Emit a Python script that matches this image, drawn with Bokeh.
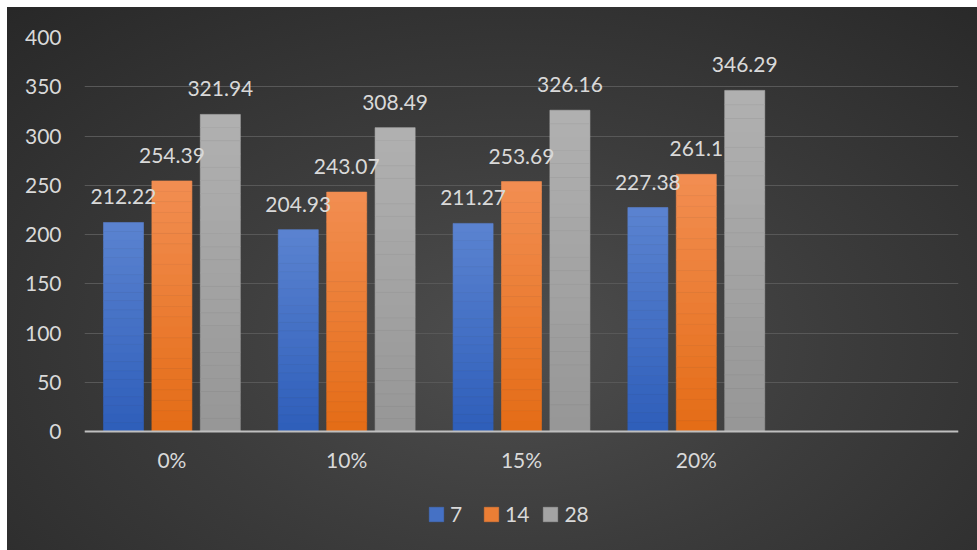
from bokeh.plotting import figure
from bokeh.models import ColumnDataSource, FactorRange, Range1d, LabelSet, Legend, LegendItem, FixedTicker, CategoricalAxis
from bokeh.core.properties import value
from bokeh.transform import dodge
from bokeh.embed import file_html
from bokeh.resources import INLINE

categories = ["0%", "10%", "15%", "20%", " "]
series_names = ["7", "14", "28"]
values_7 = [212.22, 204.93, 211.27, 227.38, None]
values_14 = [254.39, 243.07, 253.69, 261.1, None]
values_28 = [321.94, 308.49, 326.16, 346.29, None]
y_ticks = [0, 50, 100, 150, 200, 250, 300, 350, 400]

# gradient colours (bottom, top) per series
grad = [((0x2e, 0x5e, 0xba), (0x5b, 0x83, 0xd0)),
        ((0xe4, 0x6c, 0x16), (0xf2, 0x8e, 0x52)),
        ((0x96, 0x96, 0x96), (0xb1, 0xb1, 0xb1))]
FONT = "Lato"
TXT = "#d9d9d9"
NSLICE = 24

def fmt(v):
    return "" if v is None else ("%g" % v)

def num(vals):
    return [v if v is not None else float("nan") for v in vals]

series = [values_7, values_14, values_28]
src = ColumnDataSource(dict(
    cat=categories,
    v7=num(values_7), v14=num(values_14), v28=num(values_28),
    l7=[fmt(v) for v in values_7], l14=[fmt(v) for v in values_14], l28=[fmt(v) for v in values_28],
))

# frame extends to the bottom of the chart area so the legend can sit inside it
p = figure(x_range=FactorRange(*categories, range_padding=0, factor_padding=0),
           y_range=Range1d(-120.8, 400),
           frame_width=874, frame_height=513, output_backend="svg", toolbar_location=None,
           min_border_left=77, min_border_right=19, min_border_top=30, min_border_bottom=0,
           x_axis_location=None)
p.margin = (7, 0, 0, 7)
p.background_fill_alpha = 0
p.border_fill_alpha = 0
p.outline_line_color = None
p.styles = {"background": "radial-gradient(ellipse 75% 85% at 52% 62%, #4e4e4e 0%, #3c3c3c 45%, #282828 100%)"}

offs = [-0.277, 0.0, 0.277]
keys = ["v7", "v14", "v28"]
lkeys = ["l7", "l14", "l28"]
legend_renderers = []
for s_idx, (vals, k, lk, o, (c0, c1)) in enumerate(zip(series, keys, lkeys, offs, grad)):
    rv = num(vals)
    mid_r = None
    for i in range(NSLICE):
        t = (i + 0.5) / NSLICE
        col = "#%02x%02x%02x" % tuple(int(round(a + (b - a) * t)) for a, b in zip(c0, c1))
        ssrc = ColumnDataSource(dict(
            cat=categories,
            bottom=[v * i / NSLICE for v in rv],
            top=[v * (i + 1) / NSLICE for v in rv],
        ))
        r = p.vbar(x=dodge("cat", o, range=p.x_range), bottom="bottom", top="top", width=0.229,
                   source=ssrc, fill_color=col, line_color=col, line_width=0.6)
        if i == NSLICE // 2:
            mid_r = r
    legend_renderers.append(mid_r)
    lab = LabelSet(x=dodge("cat", o, range=p.x_range), y=k, text=lk, source=src,
                   text_align="center", text_baseline="bottom", y_offset=18,
                   text_color=TXT, text_font=value(FONT), text_font_size="21px")
    p.add_layout(lab)

xax = CategoricalAxis(fixed_location=0)
xax.axis_line_color = "#bfbfbf"
xax.axis_line_width = 2
xax.major_tick_line_color = None
xax.minor_tick_line_color = None
xax.major_label_text_color = TXT
xax.major_label_text_font = FONT
xax.major_label_text_font_size = "21px"
xax.major_label_standoff = 9
p.add_layout(xax, "below")

p.yaxis.ticker = FixedTicker(ticks=y_ticks)
p.yaxis.axis_line_color = None
p.yaxis.major_tick_line_color = None
p.yaxis.minor_tick_line_color = None
p.yaxis.major_label_text_color = TXT
p.yaxis.major_label_text_font = FONT
p.yaxis.major_label_text_font_size = "21px"
p.yaxis.major_label_standoff = 17

p.xgrid.grid_line_color = None
p.ygrid.grid_line_color = "#585858"
p.ygrid.grid_line_width = 1

legend = Legend(items=[LegendItem(label=n, renderers=[r]) for n, r in zip(series_names, legend_renderers)],
                orientation="horizontal", location=(343, 24),
                background_fill_alpha=0, border_line_alpha=0,
                label_text_color=TXT, label_text_font=FONT, label_text_font_size="21px",
                glyph_width=18, glyph_height=18, label_standoff=5, spacing=12,
                padding=0, margin=0)
p.add_layout(legend, "center")

open("out.html", "w").write(file_html(p, INLINE))
